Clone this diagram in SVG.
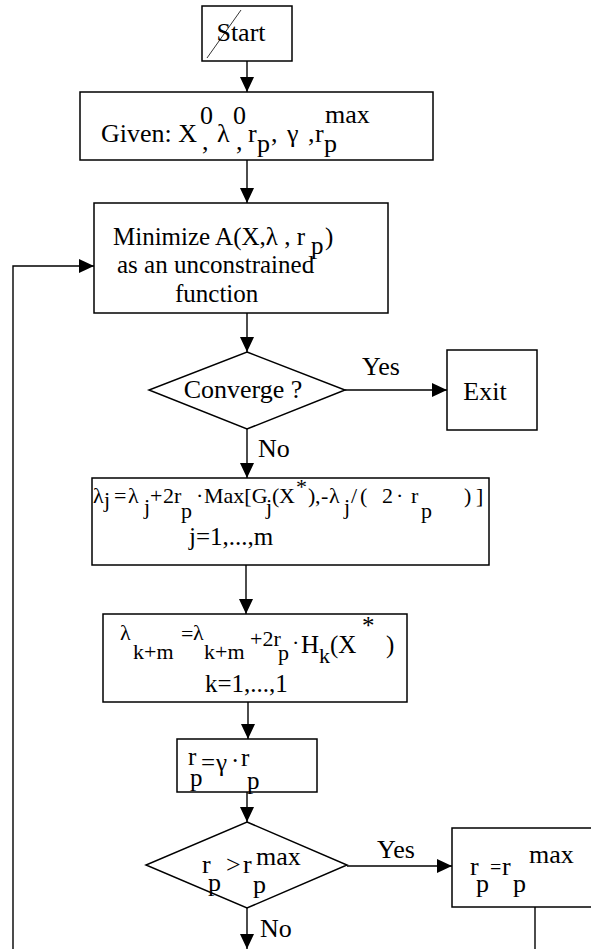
<svg xmlns="http://www.w3.org/2000/svg" width="591" height="949" viewBox="0 0 591 949">
<style>
.box{fill:#fff;stroke:#000;stroke-width:1.5}
.ln{fill:none;stroke:#000;stroke-width:1.4}
.t{font-family:"Liberation Serif","Times New Roman",serif;font-size:25px;fill:#000}
.b{font-size:26px}
.e{font-family:"Liberation Serif","Times New Roman",serif;font-size:22px;fill:#000}
.m{text-anchor:middle}
</style>
<defs>
<marker id="ah" markerUnits="userSpaceOnUse" markerWidth="15" markerHeight="14" refX="15" refY="7" orient="auto">
<path d="M0,0 L15,7 L0,14 z" fill="#000"/>
</marker>
</defs>
<rect width="591" height="949" fill="#fff"/>

<g id="connectors">
<line class="ln" x1="247" y1="61" x2="247" y2="92" marker-end="url(#ah)"/>
<line class="ln" x1="247" y1="160" x2="247" y2="203" marker-end="url(#ah)"/>
<line class="ln" x1="247" y1="313" x2="247" y2="352" marker-end="url(#ah)"/>
<line class="ln" x1="345" y1="390" x2="447" y2="390" marker-end="url(#ah)"/>
<line class="ln" x1="247" y1="429" x2="247" y2="478" marker-end="url(#ah)"/>
<line class="ln" x1="246" y1="565" x2="246" y2="614" marker-end="url(#ah)"/>
<line class="ln" x1="248" y1="702" x2="248" y2="739" marker-end="url(#ah)"/>
<line class="ln" x1="247" y1="792" x2="247" y2="822" marker-end="url(#ah)"/>
<line class="ln" x1="347" y1="866" x2="452" y2="866" marker-end="url(#ah)"/>
<line class="ln" x1="247" y1="908" x2="247" y2="949" marker-end="url(#ah)"/>
<line class="ln" x1="535" y1="907" x2="535" y2="949"/>
<polyline class="ln" points="13,949 13,266 94,266" marker-end="url(#ah)"/>
<text class="t b" x="362" y="375">Yes</text>
<text class="t b" x="258" y="457">No</text>
<text class="t b" x="377" y="858">Yes</text>
<text class="t b" x="260" y="937">No</text>
</g>

<g id="start">
<rect class="box" x="202" y="6" width="90" height="55"/>
<text class="t b m" x="241" y="41">Start</text>
<line x1="241" y1="10" x2="207" y2="58" stroke="#000" stroke-width="0.8"/>
</g>

<g id="given">
<rect class="box" x="80" y="92" width="353" height="68"/>
<text class="t b">
<tspan x="101" y="142">Given: X</tspan><tspan x="200" y="124">0</tspan><tspan x="202" y="150">,</tspan>
<tspan x="217" y="142">λ</tspan><tspan x="233" y="124">0</tspan><tspan x="236" y="150">,</tspan>
<tspan x="248" y="142">r</tspan><tspan x="257" y="152">p</tspan><tspan x="271" y="142">,</tspan>
<tspan x="287" y="142">γ</tspan><tspan x="308" y="142">,</tspan><tspan x="315" y="142">r</tspan>
<tspan x="324" y="152">p</tspan><tspan x="325" y="123">max</tspan>
</text>
</g>

<g id="minimize">
<rect class="box" x="94" y="203" width="294" height="110"/>
<text class="t"><tspan x="113" y="245">Minimize A(X,λ , r</tspan><tspan x="311" y="254">p</tspan><tspan x="325" y="245">)</tspan></text>
<text class="t" x="117" y="273">as an unconstrained</text>
<text class="t" x="175" y="302">function</text>
</g>

<g id="converge">
<polygon class="box" points="247,352 345,390 247,429 149,390"/>
<text class="t b m" x="243" y="398">Converge ?</text>
</g>

<g id="exit">
<rect class="box" x="447" y="350" width="90" height="80"/>
<text class="t b m" x="485" y="400">Exit</text>
</g>

<g id="update-lambda-j">
<rect class="box" x="92" y="478" width="397" height="87"/>
<text class="e">
<tspan x="93" y="503">λ</tspan><tspan x="104" y="507">j</tspan>
<tspan x="114" y="503">=</tspan><tspan x="128" y="503">λ</tspan><tspan x="144" y="514">j</tspan>
<tspan x="150" y="503">+</tspan><tspan x="163" y="503">2</tspan><tspan x="174" y="503">r</tspan><tspan x="181" y="518">p</tspan>
<tspan x="196" y="503">·</tspan><tspan x="204" y="503">Max[G</tspan><tspan x="266" y="514">j</tspan>
<tspan x="272" y="503">(</tspan><tspan x="279" y="503">X</tspan><tspan x="296" y="494">*</tspan><tspan x="308" y="503">)</tspan>
<tspan x="315" y="503">,</tspan><tspan x="321" y="503">-</tspan><tspan x="329" y="503">λ</tspan><tspan x="344" y="514">j</tspan>
<tspan x="351" y="503">/</tspan><tspan x="360" y="503">(</tspan>
<tspan x="382" y="503">2</tspan><tspan x="396" y="503">·</tspan><tspan x="411" y="503">r</tspan><tspan x="421" y="518">p</tspan>
<tspan x="464" y="503">)</tspan><tspan x="476" y="503">]</tspan>
</text>
<text class="t" x="189" y="545">j=1,...,m</text>
</g>

<g id="update-lambda-km">
<rect class="box" x="103" y="614" width="304" height="88"/>
<text class="e">
<tspan x="120" y="640">λ</tspan><tspan x="133" y="659">k+m</tspan>
<tspan x="181" y="641">=</tspan><tspan x="193" y="640">λ</tspan><tspan x="204" y="659">k+m</tspan>
<tspan x="250" y="646">+2r</tspan><tspan x="278" y="660">p</tspan>
<tspan x="292" y="650">·</tspan>
</text>
<text class="t">
<tspan x="301" y="653">H</tspan><tspan x="319" y="663" style="font-size:22px">k</tspan>
<tspan x="330" y="653">(X</tspan><tspan x="362" y="634">*</tspan><tspan x="386" y="653">)</tspan>
</text>
<text class="t" x="205" y="692">k=1,...,1</text>
</g>

<g id="scale-rp">
<rect class="box" x="177" y="739" width="140" height="53"/>
<text class="t">
<tspan x="188" y="765">r</tspan><tspan x="190" y="786">p</tspan>
<tspan x="201" y="771">=</tspan><tspan x="216" y="771">γ</tspan><tspan x="231" y="769">·</tspan>
<tspan x="241" y="766">r</tspan><tspan x="247" y="789">p</tspan>
</text>
</g>

<g id="rp-check">
<polygon class="box" points="247,822 347,865 247,908 146,865"/>
<text class="t b">
<tspan x="202" y="873">r</tspan><tspan x="208" y="891">p</tspan>
<tspan x="226" y="873">&gt;</tspan><tspan x="243" y="873">r</tspan>
<tspan x="253" y="893">p</tspan><tspan x="256" y="865">max</tspan>
</text>
</g>

<g id="rp-clamp">
<rect class="box" x="452" y="828" width="150" height="79"/>
<text class="t b">
<tspan x="470" y="875">r</tspan><tspan x="476" y="892">p</tspan>
<tspan x="490" y="874" style="font-size:20px">=</tspan><tspan x="502" y="875">r</tspan>
<tspan x="513" y="892">p</tspan><tspan x="529" y="863">max</tspan>
</text>
</g>
</svg>
